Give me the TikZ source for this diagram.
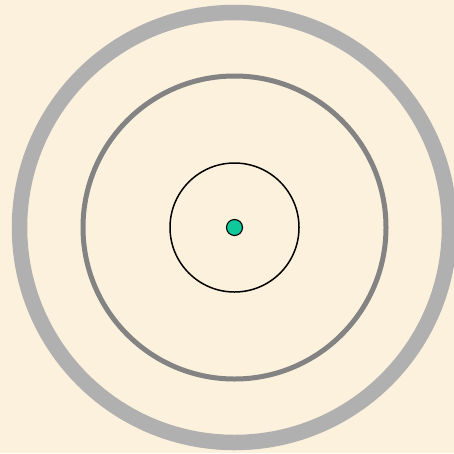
\documentclass[tikz,border=0pt]{standalone}
\usepackage{tikz}
\definecolor{paper}{HTML}{FCF1DC}
\definecolor{ringlight}{HTML}{B0B0B0}
\definecolor{ringdark}{HTML}{838383}
\definecolor{ink}{HTML}{000000}
\definecolor{core}{HTML}{0FC99A}
\tikzset{
  outerring/.style={draw=ringlight, line width=15.5pt},
  midring/.style={draw=ringdark, line width=5pt},
  innerring/.style={draw=ink, line width=1.5pt},
  dot/.style={circle, fill=core, draw=ink, line width=1.1pt, minimum size=16pt, inner sep=0pt},
}

\begin{document}
\begin{tikzpicture}[x=1pt, y=-1pt]
    \fill[paper] (0,0) rectangle (454,453);
    \useasboundingbox (0,0) rectangle (454,453);
    \coordinate (centre) at (234.5,227.5);
    \draw[outerring] (centre) circle[radius=215];
    \draw[midring] (centre) circle[radius=151.5];
    \draw[innerring] (centre) circle[radius=64.5];
    \node[dot] (nucleus) at (centre) {};
  \end{tikzpicture}
\end{document}
